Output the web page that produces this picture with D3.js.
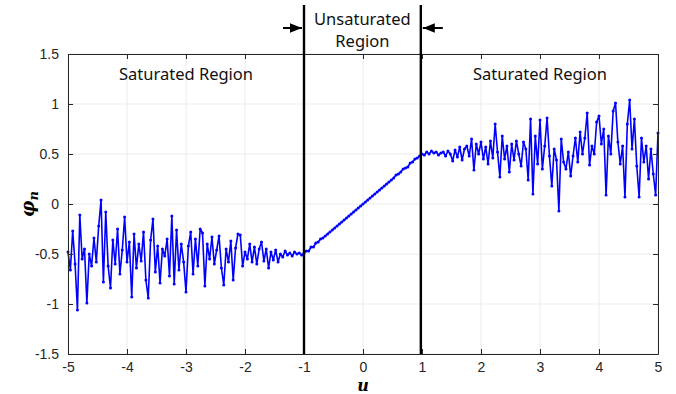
<!DOCTYPE html>
<html>
<head>
<meta charset="utf-8">
<script src="https://cdn.jsdelivr.net/npm/d3@7"></script>
<style>
  body { margin: 0; background: #fff; }
  svg { display: block; }
  .note { font-family: "Noto Sans", "Open Sans", sans-serif; font-size: 16.5px; fill: #111; }
</style>
</head>
<body>
<div id="chart"></div>
<script>
// saturated region on the left, u from -5 to -1
var leftU = [-5, -1];
var leftPhi = [-0.48, -0.66, -0.27, -0.60, -1.06, -0.11, -0.55, -0.45, -0.99, -0.50,
    -0.62, -0.34, -0.58, -0.22, 0.04, -0.78, -0.08, -0.62, -0.84, -0.36,
    -0.60, -0.25, -0.70, -0.46, -0.13, -0.58, -0.38, -0.93, -0.30, -0.64,
    -0.40, -0.57, -0.28, -0.76, -0.94, -0.36, -0.15, -0.68, -0.42, -0.79,
    -0.45, -0.52, -0.35, -0.72, -0.12, -0.80, -0.26, -0.66, -0.40, -0.58,
    -0.88, -0.42, -0.28, -0.70, -0.35, -0.62, -0.25, -0.29, -0.82, -0.40,
    -0.55, -0.33, -0.60, -0.46, -0.32, -0.64, -0.81, -0.45, -0.58, -0.37,
    -0.76, -0.44, -0.30, -0.31, -0.62, -0.48, -0.55, -0.40, -0.58, -0.43,
    -0.60, -0.45, -0.38, -0.57, -0.45, -0.64, -0.48, -0.56, -0.46, -0.58,
    -0.50, -0.53, -0.47, -0.51, -0.49, -0.52, -0.48, -0.50, -0.49, -0.51, -0.49];

// unsaturated region, u from -0.96 to 0.96
var midU = [-0.96, 0.96];
var midPhi = [-0.47, -0.47, -0.43, -0.43, -0.39, -0.38, -0.35, -0.34, -0.32, -0.30,
    -0.28, -0.26, -0.24, -0.22, -0.20, -0.18, -0.16, -0.14, -0.12, -0.10,
    -0.08, -0.06, -0.04, -0.02, 0.00, 0.02, 0.04, 0.06, 0.08, 0.10,
    0.12, 0.14, 0.16, 0.18, 0.20, 0.22, 0.24, 0.26, 0.29, 0.30,
    0.32, 0.35, 0.36, 0.37, 0.41, 0.42, 0.45, 0.46, 0.48];

// saturated region on the right, u from 1 to 5
var rightU = [1, 5];
var rightPhi = [0.50, 0.49, 0.52, 0.50, 0.53, 0.51, 0.52, 0.49, 0.51, 0.52,
    0.48, 0.53, 0.50, 0.43, 0.54, 0.47, 0.57, 0.44, 0.55, 0.58,
    0.48, 0.65, 0.34, 0.60, 0.50, 0.62, 0.45, 0.57, 0.40, 0.63,
    0.46, 0.80, 0.52, 0.27, 0.68, 0.45, 0.58, 0.32, 0.60, 0.44,
    0.63, 0.50, 0.38, 0.62, 0.55, 0.24, 0.85, 0.10, 0.68, 0.40,
    0.84, 0.35, 0.58, 0.86, 0.48, 0.18, 0.55, 0.44, -0.07, 0.65,
    0.42, 0.35, 0.52, 0.28, 0.48, 0.66, 0.42, 0.72, 0.50, 0.66,
    0.91, 0.39, 0.58, 0.50, 0.82, 0.88, 0.60, 0.75, 0.09, 0.68,
    0.50, 0.93, 1.01, 0.62, 0.40, 0.58, 0.07, 0.80, 1.04, 0.55,
    0.85, 0.38, 0.07, 0.66, 0.42, 0.58, 0.25, 0.55, 0.30, 0.09, 0.71];

var xTicks = [-5, -4, -3, -2, -1, 0, 1, 2, 3, 4, 5];
var yTicks = [-1.5, -1, -0.5, 0, 0.5, 1, 1.5];
var boundaries = [-1, 0.98];

var margin = { top: 54, right: 18, bottom: 40, left: 68 },
    width = 676 - margin.left - margin.right,
    height = 394 - margin.top - margin.bottom;

var x = d3.scaleLinear().domain([-5, 5]).range([0, width]);
var y = d3.scaleLinear().domain([-1.5, 1.5]).range([height, 0]);

var svg = d3.select("#chart").append("svg")
    .attr("width", 676)
    .attr("height", 394);

var g = svg.append("g")
    .attr("transform", "translate(" + margin.left + "," + margin.top + ")");

// grid
g.selectAll(".gx").data(xTicks).enter().append("line")
    .attr("x1", function (d) { return x(d); }).attr("x2", function (d) { return x(d); })
    .attr("y1", 0).attr("y2", height)
    .attr("stroke", "#ebebeb").attr("stroke-width", 1);
g.selectAll(".gy").data(yTicks).enter().append("line")
    .attr("y1", function (d) { return y(d); }).attr("y2", function (d) { return y(d); })
    .attr("x1", 0).attr("x2", width)
    .attr("stroke", "#ebebeb").attr("stroke-width", 1);

// build points from the three segments
function segment(range, vals) {
    var step = (range[1] - range[0]) / (vals.length - 1);
    return vals.map(function (v, i) { return { u: range[0] + i * step, phi: v }; });
}
var points = segment(leftU, leftPhi).concat(segment(midU, midPhi), segment(rightU, rightPhi));

var line = d3.line()
    .x(function (d) { return x(d.u); })
    .y(function (d) { return y(d.phi); });

g.append("path")
    .datum(points)
    .attr("fill", "none")
    .attr("stroke", "#0000ff")
    .attr("stroke-width", 1.6)
    .attr("stroke-linejoin", "round")
    .attr("d", line);

g.selectAll(".dot").data(points).enter().append("circle")
    .attr("cx", function (d) { return x(d.u); })
    .attr("cy", function (d) { return y(d.phi); })
    .attr("r", 1.5)
    .attr("fill", "#0000ff");

// axes, box on with ticks inside
var tickFmt = function (d) { return String(d); };
var axB = g.append("g")
    .attr("transform", "translate(0," + height + ")")
    .call(d3.axisBottom(x).tickValues(xTicks).tickFormat(tickFmt).tickSizeInner(-5).tickSizeOuter(0).tickPadding(8));
g.append("g")
    .call(d3.axisTop(x).tickValues(xTicks).tickFormat("").tickSizeInner(-5).tickSizeOuter(0));
var axL = g.append("g")
    .call(d3.axisLeft(y).tickValues(yTicks).tickFormat(tickFmt).tickSizeInner(-5).tickSizeOuter(0).tickPadding(9));
g.append("g")
    .attr("transform", "translate(" + width + ",0)")
    .call(d3.axisRight(y).tickValues(yTicks).tickFormat("").tickSizeInner(-5).tickSizeOuter(0));
g.selectAll(".domain, .tick line").attr("stroke", "#262626");
[axB, axL].forEach(function (a) {
    a.attr("font-family", "'Liberation Sans', Arial, sans-serif").attr("font-size", 14);
    a.selectAll(".tick text").attr("fill", "#262626");
});

// region boundaries
g.selectAll(".bound").data(boundaries).enter().append("line")
    .attr("x1", function (d) { return x(d); }).attr("x2", function (d) { return x(d); })
    .attr("y1", 5 - margin.top).attr("y2", height)
    .attr("stroke", "#000").attr("stroke-width", 2.4);

// arrows
var defs = svg.append("defs");
defs.append("marker")
    .attr("id", "arrow")
    .attr("viewBox", "0 0 10 10")
    .attr("refX", 10).attr("refY", 5)
    .attr("markerWidth", 6).attr("markerHeight", 6)
    .attr("orient", "auto")
    .append("path").attr("d", "M0,1 L10,5 L0,9 Z").attr("fill", "#000");

var arrowY = 28 - margin.top;
g.append("line")
    .attr("x1", x(boundaries[0]) - 21).attr("x2", x(boundaries[0]) - 2)
    .attr("y1", arrowY).attr("y2", arrowY)
    .attr("stroke", "#000").attr("stroke-width", 2)
    .attr("marker-end", "url(#arrow)");
g.append("line")
    .attr("x1", x(boundaries[1]) + 22).attr("x2", x(boundaries[1]) + 2)
    .attr("y1", arrowY).attr("y2", arrowY)
    .attr("stroke", "#000").attr("stroke-width", 2)
    .attr("marker-end", "url(#arrow)");

// region labels
var midX = (x(boundaries[0]) + x(boundaries[1])) / 2;
g.append("text").attr("class", "note").attr("text-anchor", "middle")
    .attr("x", midX).attr("y", 25 - margin.top).text("Unsaturated");
g.append("text").attr("class", "note").attr("text-anchor", "middle")
    .attr("x", midX).attr("y", 47 - margin.top).text("Region");
g.append("text").attr("class", "note").attr("text-anchor", "middle")
    .attr("x", x(-3)).attr("y", 80 - margin.top).text("Saturated Region");
g.append("text").attr("class", "note").attr("text-anchor", "middle")
    .attr("x", x(3)).attr("y", 80 - margin.top).text("Saturated Region");

// axis labels
svg.append("text")
    .attr("x", margin.left + width / 2).attr("y", 391)
    .attr("text-anchor", "middle")
    .style("font-family", "'DejaVu Serif', 'Liberation Serif', serif")
    .style("font-weight", "bold").style("font-style", "italic").style("font-size", "16px")
    .text("u");

var yl = svg.append("text")
    .attr("transform", "translate(34," + (margin.top + height / 2) + ") rotate(-90)")
    .attr("text-anchor", "middle")
    .style("font-family", "'DejaVu Serif', 'Liberation Serif', serif")
    .style("font-weight", "bold").style("font-style", "italic").style("font-size", "18px");
yl.append("tspan").text("\u03C6");
yl.append("tspan").attr("dy", 4).style("font-size", "13px").text("n");
</script>
</body>
</html>
